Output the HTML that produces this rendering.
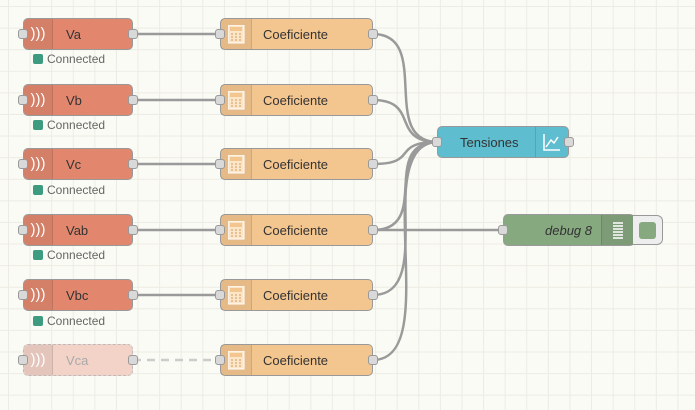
<!DOCTYPE html>
<html><head><style>
body{margin:0;width:695px;height:410px;overflow:hidden;background:#fbfbf5;
background-image:linear-gradient(#ececE4 1px,transparent 1px),linear-gradient(90deg,#ecece4 1px,transparent 1px);
background-size:21.6px 21.6px;background-position:8px 6px;font-family:"Liberation Sans",sans-serif;}
.n{position:absolute;height:32px;border:1px solid #999;border-radius:5px;box-sizing:border-box;font-size:13px;color:#333;}
.in{background:#e2876e;width:110px;left:23px;}
.in .ic{position:absolute;left:0;top:0;width:28px;height:100%;background:rgba(0,0,0,0.06);border-right:1px solid rgba(0,0,0,0.1);border-radius:5px 0 0 5px;color:#fff;font-size:15px;line-height:30px;text-align:center;}
.in .t{position:absolute;left:42px;top:8px;}
.co{background:#f3c58f;width:153px;left:220px;}
.co .ic{position:absolute;left:0;top:0;width:30px;height:100%;background:rgba(0,0,0,0.05);border-right:1px solid rgba(0,0,0,0.1);}
.co .ic svg{position:absolute;left:7px;top:6px;}
.co .t{position:absolute;left:42px;top:8px;}
.p{position:absolute;width:10px;height:10px;background:#d9d9d9;border:1px solid #999;border-radius:3px;box-sizing:border-box;top:10px;}
.st{position:absolute;left:33px;font-size:12px;color:#666;}
.st i{display:inline-block;width:10px;height:10px;background:#3d9b7f;border-radius:2px;vertical-align:-1px;margin-right:4px;}
</style></head><body>
<svg width="0" height="0" style="position:absolute"><defs><g id="calc"><rect x="0" y="0" width="16" height="18" fill="#fbe6c9" stroke="#fff"/><rect x="2" y="2" width="12" height="4" fill="#f3c58f"/><path d="M3 9h2M7 9h2M11 9h2M3 12h2M7 12h2M11 12h2M3 15h2M7 15h2M11 15h2" stroke="#e0b37e" stroke-width="1.5"/></g></defs></svg>
<svg width="695" height="410" style="position:absolute;left:0;top:0" fill="none" stroke="#9a9a9a" stroke-width="2.5">
<path d="M133 34H220M133 100H220M133 164H220M133 230H220M133 295H220"/>
<path d="M133 360H220" stroke="#ccc" stroke-dasharray="8 6"/>
<path d="M373 34C433 34 378 142 438 142"/>
<path d="M373 100C420 100 390 142 438 142"/>
<path d="M373 164C420 164 390 142 438 142"/>
<path d="M373 230C433 230 378 142 438 142"/>
<path d="M373 295C440 295 371 142 438 142"/>
<path d="M373 360C445 360 366 142 438 142"/>
<path d="M373 230H504"/>
</svg>
<div class="n in" style="top:18px"><div class="ic">)))</div><div class="t">Va</div><div class="p" style="left:-6px"></div><div class="p" style="right:-6px"></div></div>
<div class="st" style="top:52px"><i></i>Connected</div>
<div class="n in" style="top:84px"><div class="ic">)))</div><div class="t">Vb</div><div class="p" style="left:-6px"></div><div class="p" style="right:-6px"></div></div>
<div class="st" style="top:118px"><i></i>Connected</div>
<div class="n in" style="top:148px"><div class="ic">)))</div><div class="t">Vc</div><div class="p" style="left:-6px"></div><div class="p" style="right:-6px"></div></div>
<div class="st" style="top:183px"><i></i>Connected</div>
<div class="n in" style="top:214px"><div class="ic">)))</div><div class="t">Vab</div><div class="p" style="left:-6px"></div><div class="p" style="right:-6px"></div></div>
<div class="st" style="top:248px"><i></i>Connected</div>
<div class="n in" style="top:279px"><div class="ic">)))</div><div class="t">Vbc</div><div class="p" style="left:-6px"></div><div class="p" style="right:-6px"></div></div>
<div class="st" style="top:314px"><i></i>Connected</div>
<div class="n in" style="top:344px;background:#f3d2c7;border:1px dashed #bbb;color:#aaa"><div class="ic">)))</div><div class="t">Vca</div><div class="p" style="left:-6px"></div><div class="p" style="right:-6px"></div></div>
<div class="n co" style="top:18px"><div class="ic"><svg width="17" height="19"><use href="#calc"/></svg></div><div class="t">Coeficiente</div><div class="p" style="left:-6px"></div><div class="p" style="right:-6px"></div></div>
<div class="n co" style="top:84px"><div class="ic"><svg width="17" height="19"><use href="#calc"/></svg></div><div class="t">Coeficiente</div><div class="p" style="left:-6px"></div><div class="p" style="right:-6px"></div></div>
<div class="n co" style="top:148px"><div class="ic"><svg width="17" height="19"><use href="#calc"/></svg></div><div class="t">Coeficiente</div><div class="p" style="left:-6px"></div><div class="p" style="right:-6px"></div></div>
<div class="n co" style="top:214px"><div class="ic"><svg width="17" height="19"><use href="#calc"/></svg></div><div class="t">Coeficiente</div><div class="p" style="left:-6px"></div><div class="p" style="right:-6px"></div></div>
<div class="n co" style="top:279px"><div class="ic"><svg width="17" height="19"><use href="#calc"/></svg></div><div class="t">Coeficiente</div><div class="p" style="left:-6px"></div><div class="p" style="right:-6px"></div></div>
<div class="n co" style="top:344px"><div class="ic"><svg width="17" height="19"><use href="#calc"/></svg></div><div class="t">Coeficiente</div><div class="p" style="left:-6px"></div><div class="p" style="right:-6px"></div></div>
<div class="n" style="top:126px;left:437px;width:132px;background:#5fbdd0">
<div style="position:absolute;left:22px;top:8px">Tensiones</div>
<div style="position:absolute;right:0;top:0;width:32px;height:100%;border-left:1px solid rgba(0,0,0,0.12)">
<svg width="32" height="30" style="position:absolute;left:0;top:0"><path d="M8 7V23H24M10 20L15 13L18 16L22 10" stroke="#fff" stroke-width="1.5" fill="none"/></svg></div>
<div class="p" style="left:-6px"></div><div class="p" style="right:-6px"></div></div>
<div class="n" style="top:214px;left:503px;width:132px;background:#87a980">
<div style="position:absolute;right:42px;top:8px;font-style:italic">debug 8</div>
<div style="position:absolute;right:0;top:0;width:32px;height:100%;background:rgba(0,0,0,0.08);border-left:1px solid rgba(0,0,0,0.12)">
<svg width="32" height="30" style="position:absolute;left:0;top:0"><path d="M11 8H21M11 11H21M11 14H21M11 17H21M11 20H21M11 23H21" stroke="#fff" stroke-width="1.5"/></svg></div>
<div class="p" style="left:-6px"></div></div>
<div style="position:absolute;left:633px;top:215px;width:30px;height:30px;box-sizing:border-box;border:1px solid #999;border-left:none;border-radius:0 6px 6px 0;background:#eee"><div style="position:absolute;left:6px;top:6px;width:17px;height:17px;background:#87a980;border-radius:3px"></div></div>
</body></html>
